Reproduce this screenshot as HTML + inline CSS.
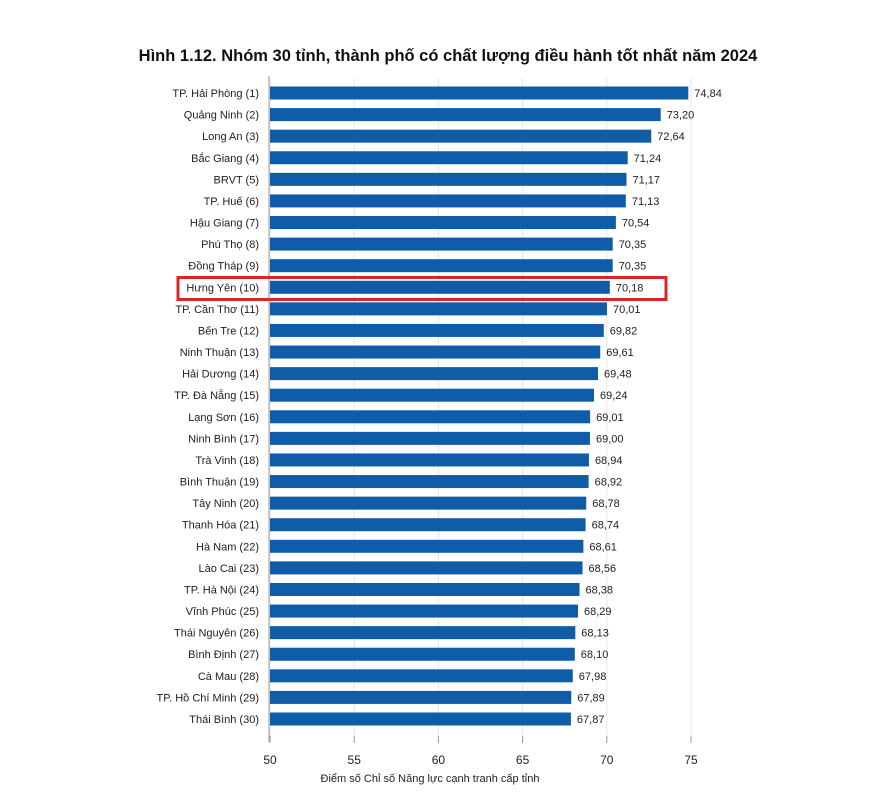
<!DOCTYPE html>
<html><head><meta charset="utf-8"><style>
body{margin:0;background:#fff;width:869px;height:800px;overflow:hidden;font-family:"Liberation Sans","DejaVu Sans",sans-serif;}
</style></head><body>
<svg id="chart" width="869" height="800" xmlns="http://www.w3.org/2000/svg">
<text x="448" y="61" text-anchor="middle" font-size="16.5" font-weight="bold" fill="#111" font-family="Liberation Sans, sans-serif">Hình 1.12. Nhóm 30 tỉnh, thành phố có chất lượng điều hành tốt nhất năm 2024</text>
<g id="grid"></g><g id="bars"></g><g id="axis"></g>
<rect x="178" y="277.5" width="488" height="22" fill="none" stroke="#d9262b" stroke-width="3"/>
<text x="430" y="782" text-anchor="middle" font-size="11" fill="#222">Điểm số Chỉ số Năng lực cạnh tranh cấp tỉnh</text>
</svg>
<script>
const categories=["TP. Hải Phòng (1)","Quảng Ninh (2)","Long An (3)","Bắc Giang (4)","BRVT (5)","TP. Huế (6)","Hậu Giang (7)","Phú Thọ (8)","Đồng Tháp (9)","Hưng Yên (10)","TP. Cần Thơ (11)","Bến Tre (12)","Ninh Thuận (13)","Hải Dương (14)","TP. Đà Nẵng (15)","Lạng Sơn (16)","Ninh Bình (17)","Trà Vinh (18)","Bình Thuận (19)","Tây Ninh (20)","Thanh Hóa (21)","Hà Nam (22)","Lào Cai (23)","TP. Hà Nội (24)","Vĩnh Phúc (25)","Thái Nguyên (26)","Bình Định (27)","Cà Mau (28)","TP. Hồ Chí Minh (29)","Thái Bình (30)"];
const values=[74.84,73.20,72.64,71.24,71.17,71.13,70.54,70.35,70.35,70.18,70.01,69.82,69.61,69.48,69.24,69.01,69.00,68.94,68.92,68.78,68.74,68.61,68.56,68.38,68.29,68.13,68.10,67.98,67.89,67.87];
const ticks=[50,55,60,65,70,75];
const NS="http://www.w3.org/2000/svg";
const x0=270,x1=691,vmin=50,vmax=75;
const xs=v=>x0+(v-vmin)/(vmax-vmin)*(x1-x0);
const yTop=93,step=(719-93)/29;
const ys=i=>yTop+i*step;
function mk(t,a,p){const e=document.createElementNS(NS,t);for(const k in a)e.setAttribute(k,a[k]);p.appendChild(e);return e;}
const grid=document.getElementById('grid'),bars=document.getElementById('bars'),axis=document.getElementById('axis');
ticks.forEach(t=>{
 const g=mk('line',{x1:xs(t),x2:xs(t),y1:78,y2:742,stroke:'#e6e6e6','stroke-width':1},grid);
 
 
 const tk=mk('line',{x1:xs(t),x2:xs(t),y1:736,y2:743,stroke:'#999','stroke-width':1},axis);
 
 
 const l=mk('text',{x:xs(t),y:764,'text-anchor':'middle','font-size':12,fill:'#222'},axis);
 l.textContent=t;
 
 
});
const ax=mk('line',{x1:x0-1,x2:x0-1,y1:76,y2:742,stroke:'#999','stroke-width':1},axis);


categories.forEach((c,i)=>{
 const y=ys(i),v=values[i];
 const r=mk('rect',{x:x0,y:y-6.5,width:xs(v)-x0,height:13,fill:'#0f5ca8'},bars);
 
 
 const lb=mk('text',{x:259,y:y+4,'text-anchor':'end','font-size':11,fill:'#222'},bars);
 lb.textContent=c;
 
 
 const vl=mk('text',{x:xs(v)+6,y:y+4,'font-size':11,fill:'#222'},bars);
 vl.textContent=v.toFixed(2).replace('.',',');
 
 
});
</script>
</body></html>
